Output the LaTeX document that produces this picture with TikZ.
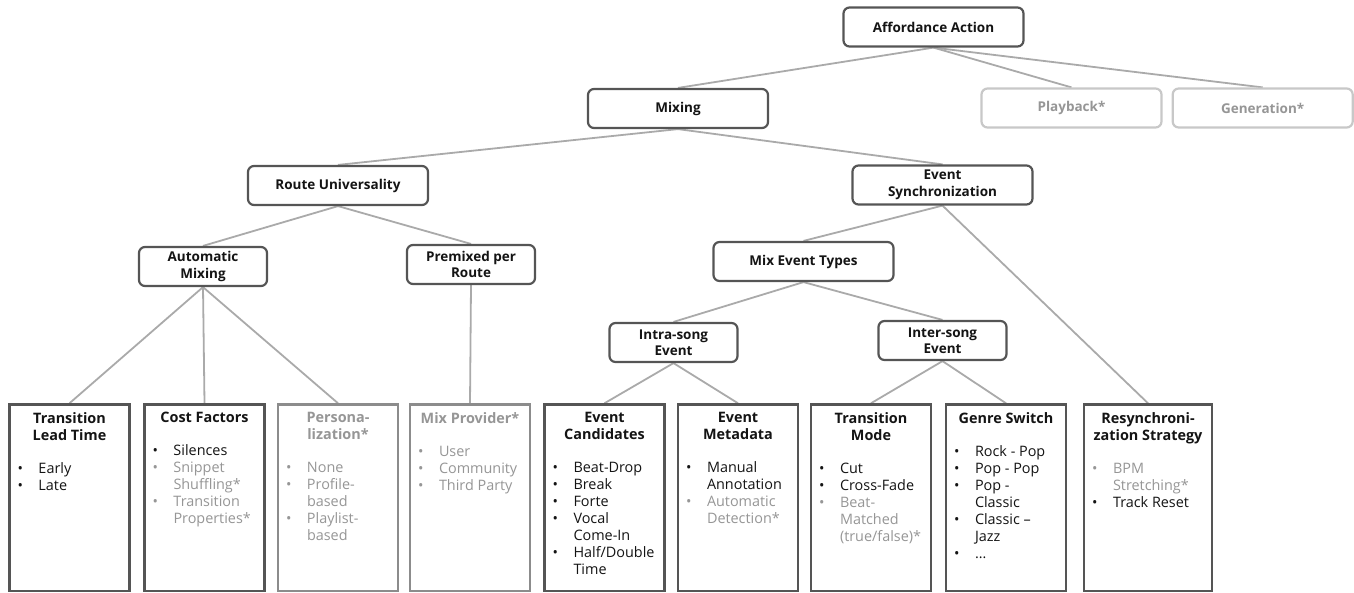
\documentclass[tikz,border=0pt]{standalone}
\usepackage{fontspec}
\setmainfont{Open Sans}
\usepackage{tikz}
\usetikzlibrary{positioning,backgrounds}
\usepackage{xcolor}
\definecolor{ink}{RGB}{20,20,20}
\definecolor{boxline}{RGB}{85,85,85}
\definecolor{dimline}{RGB}{140,140,140}
\definecolor{ghostline}{RGB}{200,200,200}
\definecolor{ghosttext}{RGB}{150,150,150}
\definecolor{linkgray}{RGB}{170,170,170}
\newcommand{\topfont}{\fontsize{13.5}{16.5}\selectfont\bfseries}
\newcommand{\leaffont}{\fontsize{14.4}{17}\selectfont}
% one bullet line, and a greyed-out one
\newcommand{\itm}[1]{\hangindent=21pt\hangafter=1\noindent\makebox[21pt][l]{\textbullet}#1\par}
\newcommand{\ditm}[1]{{\color{ghosttext}\itm{#1}}}
\newcommand{\leaftext}[3]{\parbox[t][170.5pt][t]{#1}{{\centering\bfseries #2\par}\vspace{16pt}%
  \raggedright\let\\\newline\leftskip=8pt #3}}
\tikzset{
  topbox/.style={draw=boxline,line width=2.2pt,rounded corners=6pt,fill=white,text=ink,
    align=center,font=\topfont,minimum width=180pt,minimum height=39pt,inner sep=2pt},
  narrow/.style={minimum width=128pt},
  ghost/.style={topbox,draw=ghostline,text=ghosttext},
  leafbox/.style={draw=boxline,line width=2.5pt,fill=white,text=ink,anchor=north,
    inner xsep=0pt,inner ysep=8pt,font=\leaffont},
  dimleaf/.style={leafbox,draw=dimline,text=ghosttext},
  link/.style={draw=linkgray,line width=1.8pt},
}

\begin{document}
\begin{tikzpicture}[x=1pt,y=-1pt]
  \useasboundingbox (0,0) rectangle (1354,592);
  % upper levels
  \node[topbox] (aff) at (933.5,27) {Affordance Action};
  \node[topbox] (mix) at (678,108.5) {Mixing};
  \node[ghost] (play) at (1071.5,108) {Playback*};
  \node[ghost,right=9pt of play] (gen) {Generation*};
  \node[topbox] (route) at (338,185.5) {Route Universality};
  \node[topbox] (esync) at (942.5,185) {Event\\Synchronization};
  \node[topbox,narrow] (auto) at (203,266.5) {Automatic\\Mixing};
  \node[topbox,narrow] (premix) at (471,264.5) {Premixed per\\Route};
  \node[topbox] (mixev) at (803.5,261.5) {Mix Event Types};
  \node[topbox,narrow] (intra) at (673.5,342.5) {Intra-song\\Event};
  \node[topbox,narrow] (inter) at (942.5,340.5) {Inter-song\\Event};
  % leaves
  \node[leafbox] (lead) at (69.5,403.25)
    {\leaftext{120pt}{Transition\\Lead Time}{\itm{Early}\itm{Late}}};
  \node[leafbox] (cost) at (204.5,403.25)
    {\leaftext{120pt}{Cost Factors}{\itm{Silences}\ditm{Snippet\\Shuffling*}\ditm{Transition\\Properties*}}};
  \node[dimleaf] (pers) at (338,403.25)
    {\leaftext{120pt}{Persona-\\lization*}{\itm{None}\itm{Profile-\\based}\itm{Playlist-\\based}}};
  \node[dimleaf] (prov) at (470,403.25)
    {\leaftext{120pt}{Mix Provider*}{\itm{User}\itm{Community}\itm{Third Party}}};
  \node[leafbox] (cand) at (604.5,403.25)
    {\leaftext{120pt}{Event\\Candidates}{\itm{Beat-Drop}\itm{Break}\itm{Forte}\itm{Vocal\\Come-In}\itm{Half/Double\\Time}}};
  \node[leafbox] (meta) at (738,403.25)
    {\leaftext{120pt}{Event\\Metadata}{\itm{Manual\\Annotation}\ditm{Automatic\\Detection*}}};
  \node[leafbox] (tmode) at (871,403.25)
    {\leaftext{120pt}{Transition\\Mode}{\itm{Cut}\itm{Cross-Fade}\ditm{Beat-\\Matched\\(true/false)*}}};
  \node[leafbox] (genre) at (1006,403.25)
    {\leaftext{120pt}{Genre Switch}{\itm{Rock - Pop}\itm{Pop - Pop}\itm{Pop -\\Classic}\itm{Classic --\\Jazz}\itm{\ldots}}};
  \node[leafbox] (resync) at (1148,403.25)
    {\leaftext{128pt}{Resynchroni-\\zation Strategy}{\ditm{BPM\\Stretching*}\itm{Track Reset}}};
  \begin{scope}[on background layer]
    \foreach \a/\b in {aff/mix,aff/play,aff/gen,mix/route,mix/esync,route/auto,route/premix,
        auto/lead,auto/cost,auto/pers,premix/prov,esync/mixev,esync/resync,
        mixev/intra,mixev/inter,intra/cand,intra/meta,inter/tmode,inter/genre}
      \draw[link] (\a.south) -- (\b.north);
  \end{scope}
\end{tikzpicture}
\end{document}
